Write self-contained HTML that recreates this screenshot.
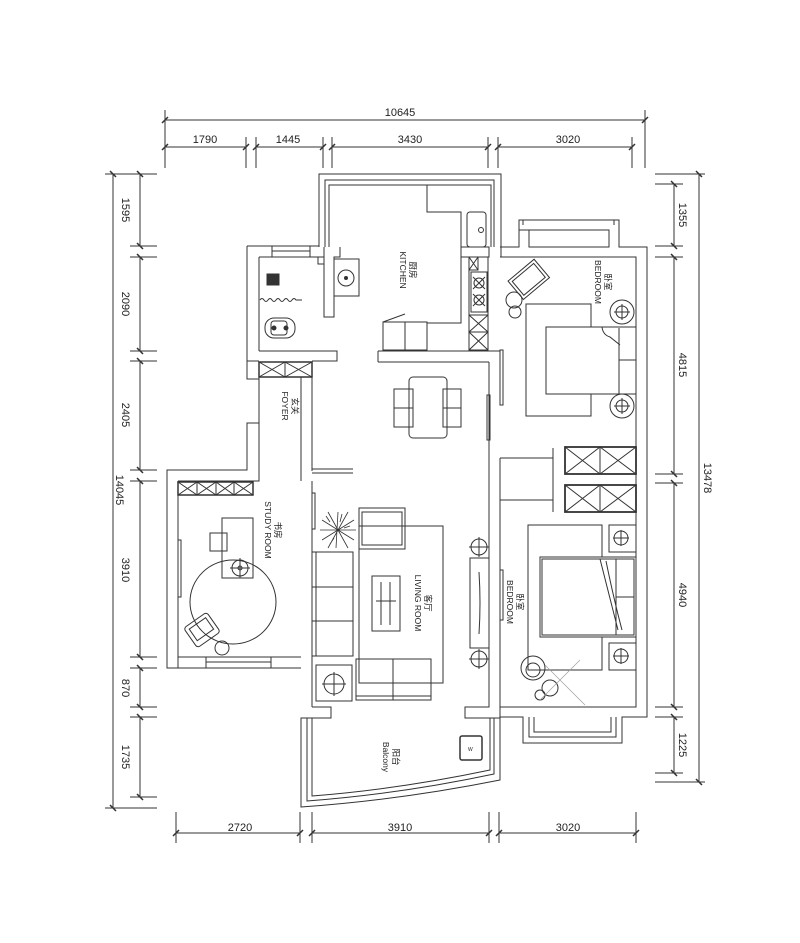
<!DOCTYPE html>
<html><head><meta charset="utf-8"><style>
html,body{margin:0;padding:0;background:#fff;}
svg{display:block;}
text{font-family:"Liberation Sans","Noto Sans CJK SC",sans-serif;fill:#222;}
</style></head><body>
<svg width="800" height="943" viewBox="0 0 800 943" xmlns="http://www.w3.org/2000/svg">
<g stroke="#333" stroke-width="1" fill="none">
<!-- top dims -->
<line x1="165" y1="120" x2="645" y2="120"/>
<line x1="165" y1="110" x2="165" y2="168"/><line x1="645" y1="110" x2="645" y2="168"/>
<line x1="165" y1="147" x2="246" y2="147"/><line x1="256" y1="147" x2="323" y2="147"/>
<line x1="332" y1="147" x2="488" y2="147"/><line x1="498" y1="147" x2="632" y2="147"/>
<path d="M246 137V168M256 137V168M323 137V168M332 137V168M488 137V168M498 137V168M632 137V168"/>
<path d="M162 123l6-6M642 123l6-6M162 150l6-6M243 150l6-6M253 150l6-6M320 150l6-6M329 150l6-6M485 150l6-6M495 150l6-6M629 150l6-6" stroke-width="1.5"/>
<!-- left dims -->
<line x1="113" y1="174" x2="113" y2="808"/>
<line x1="140" y1="174" x2="140" y2="246"/><line x1="140" y1="257" x2="140" y2="351"/>
<line x1="140" y1="361" x2="140" y2="470"/><line x1="140" y1="481" x2="140" y2="657"/>
<line x1="140" y1="668" x2="140" y2="707"/><line x1="140" y1="717" x2="140" y2="797"/>
<path d="M105 174H157M130 246H157M130 257H157M130 351H157M130 361H157M130 470H157M130 481H157M130 657H157M130 668H157M130 707H157M130 717H157M130 797H157M105 808H157"/>
<path d="M110 171l6 6M137 171l6 6M137 243l6 6M137 254l6 6M137 348l6 6M137 358l6 6M137 467l6 6M137 478l6 6M137 654l6 6M137 665l6 6M137 704l6 6M137 714l6 6M137 794l6 6M110 805l6 6" stroke-width="1.5"/>
<!-- right dims -->
<line x1="699" y1="174" x2="699" y2="782"/>
<line x1="674" y1="184" x2="674" y2="246"/><line x1="674" y1="257" x2="674" y2="474"/>
<line x1="674" y1="483" x2="674" y2="707"/><line x1="674" y1="717" x2="674" y2="773"/>
<path d="M655 174H705M655 184H683M655 246H683M655 257H683M655 474H683M655 483H683M655 707H683M655 717H683M655 773H683M655 782H705"/>
<path d="M671 181l6 6M671 243l6 6M671 254l6 6M671 471l6 6M671 480l6 6M671 704l6 6M671 714l6 6M671 770l6 6M696 171l6 6M696 779l6 6" stroke-width="1.5"/>
<!-- bottom dims -->
<line x1="176" y1="833" x2="300" y2="833"/><line x1="312" y1="833" x2="489" y2="833"/><line x1="499" y1="833" x2="636" y2="833"/>
<path d="M176 812V843M300 812V843M312 812V843M489 812V843M499 812V843M636 812V843"/>
<path d="M173 836l6-6M297 836l6-6M309 836l6-6M486 836l6-6M496 836l6-6M633 836l6-6" stroke-width="1.5"/>

<!-- kitchen bay -->
<path d="M319 247V174H501V247M325 247V180H494V247M329 247V185H491V247"/>
<!-- kitchen counter -->
<path d="M427 185V212H461V323H427V350"/>
<rect x="467" y="212" width="19" height="35" rx="3"/>
<circle cx="481" cy="230" r="2.5"/>
<!-- kitchen cabinet column -->
<rect x="461" y="247" width="28" height="10"/>
<rect x="469" y="257" width="19" height="93"/>
<path d="M469 257V270H478V257M469 257L478 270M478 257L469 270"/>
<rect x="471" y="272" width="16" height="40"/>
<circle cx="479" cy="283" r="5"/><circle cx="479" cy="300" r="5"/>
<path d="M473 277l12 12M485 277l-12 12M473 294l12 12M485 294l-12 12"/>
<path d="M469 315H488M469 332H488M469 315L488 332M488 315L469 332M469 332L488 350M488 332L469 350"/>
<!-- fridge -->
<rect x="383" y="322" width="44" height="28"/><line x1="405" y1="322" x2="405" y2="350"/>
<path d="M383 322l22-8"/>
<!-- kitchen bottom wall -->
<path d="M378 351H500M378 362H489M378 351V362"/>
<!-- bathroom -->
<path d="M247 246H319M247 246V379H259M259 257V351M259 257H272M310 257H324"/>
<rect x="272" y="246" width="38" height="11"/><line x1="272" y1="251" x2="310" y2="251"/>
<path d="M324 247V317H334V257H340V247"/>
<path d="M318 257V264H324"/>
<rect x="334" y="259" width="25" height="37"/>
<circle cx="346" cy="278" r="8"/><circle cx="346" cy="278" r="1.5" fill="#333"/>
<rect x="267" y="274" width="12" height="11" fill="#333"/>
<path d="M260 300q2-3 4 0t4 0t4 0t4 0t4 0t4 0t4 0t4 0t4 0H302"/>
<rect x="265" y="318" width="30" height="20" rx="9"/>
<rect x="271" y="321" width="16" height="14" rx="3"/>
<circle cx="274" cy="328" r="2" fill="#333"/><circle cx="286" cy="328" r="2" fill="#333"/>
<path d="M259 351H337V361H312M247 361H259"/>
<!-- foyer closet -->
<rect x="259" y="362" width="53" height="15" stroke-width="1.5"/>
<path d="M285 362V377M259 362L285 377M285 362L259 377M285 362L312 377M312 362L285 377"/>
<!-- foyer walls -->
<path d="M259 377V470M301 377V481M312 377V471M259 423H247V470H167V668H301M312 481V707"/>
<path d="M312 469H353M312 473H353"/>
<!-- study -->
<path d="M178 481H259V470M178 481V657H301M178 657V668"/>
<rect x="178" y="482" width="75" height="13" stroke-width="1.5"/>
<path d="M197 482V495M216 482V495M234 482V495M178 482l19 13M197 482l-19 13M197 482l19 13M216 482l-19 13M216 482l18 13M234 482l-18 13M234 482l19 13M253 482l-19 13"/>
<rect x="206" y="657" width="65" height="11"/><line x1="206" y1="662" x2="271" y2="662"/>
<rect x="178" y="540" width="3" height="57"/>
<rect x="222" y="518" width="31" height="60"/>
<rect x="210" y="533" width="17" height="18"/>
<ellipse cx="233" cy="602" rx="43" ry="42"/>
<circle cx="240" cy="568" r="8"/><path d="M240 558V578M230 568H250"/><circle cx="240" cy="568" r="2"/>
<g transform="rotate(-35 202 630)"><rect x="188" y="618" width="28" height="24" rx="3"/><rect x="192" y="622" width="20" height="14"/></g>
<circle cx="222" cy="648" r="7"/>
<!-- living room walls -->
<path d="M312 707H331V718H301V807"/>
<rect x="312" y="493" width="3" height="36"/>
<path d="M489 362V707H465V718H500V458M500 500V717"/>
<path d="M500 458H553V500H500M553 448V512"/>
<rect x="487" y="395" width="3" height="45"/>
<!-- balcony -->
<path d="M301 718V807Q400 800 500 780V718M307 718V801Q400 794 494 774V718M312 718V796Q400 789 490 770V718"/>
<rect x="460" y="736" width="22" height="24" rx="2" stroke-width="1.5"/>
<text x="468" y="751" font-size="5" stroke="none">W</text>
<!-- dining -->
<rect x="409" y="377" width="38" height="61" rx="4"/>
<rect x="394" y="389" width="19" height="19"/><rect x="394" y="408" width="19" height="19"/>
<rect x="443" y="389" width="18" height="19"/><rect x="443" y="408" width="18" height="19"/>
<!-- living furniture -->
<g stroke-width="0.8"><path d="M338 512l-2 36M322 520l32 20M322 540l32-20M320 530h36M328 512l20 36M348 512l-20 36M326 516l4 6M342 514l-2 8M350 526l-6 2M330 544l4-6"/></g>
<rect x="359" y="508" width="46" height="41"/><rect x="362" y="512" width="40" height="33"/>
<rect x="359" y="526" width="84" height="157"/>
<rect x="312" y="552" width="41" height="104"/>
<path d="M316 552V656M312 587H353M312 621H353"/>
<rect x="372" y="576" width="28" height="55"/>
<path d="M381 582V625M390 582V625M376 601H396"/>
<rect x="356" y="659" width="75" height="41"/>
<path d="M393 659V700M356 696H431"/>
<rect x="316" y="665" width="36" height="36"/>
<circle cx="334" cy="684" r="10"/><path d="M334 672V696M322 684H346"/>
<rect x="470" y="558" width="19" height="90"/>
<path d="M479 572Q481 603 479 634"/>
<circle cx="479" cy="547" r="8"/><path d="M479 537V557M469 547H489"/>
<circle cx="479" cy="659" r="8"/><path d="M479 649V669M469 659H489"/>
<!-- bedroom 1 -->
<path d="M500 247H519V220H619V247H647V717H622V743H523V717H500M500 257H636V447M636 474V485M636 512V707H500M501 247V257M519 230H609"/>
<path d="M523 220V225M614 220V225"/>
<rect x="529" y="230" width="80" height="17"/>
<rect x="526" y="304" width="65" height="112"/>
<rect x="546" y="327" width="90" height="67" fill="#fff"/>
<path d="M602 327Q603 335 610 337L620 345M619 328V394M619 360H636"/>
<circle cx="622" cy="312" r="12"/><circle cx="622" cy="312" r="6"/><path d="M622 304V320M614 312H630"/>
<circle cx="622" cy="406" r="12"/><circle cx="622" cy="406" r="6"/><path d="M622 398V414M614 406H630"/>
<g transform="rotate(-40 528 280)"><rect x="512" y="268" width="34" height="24"/><rect x="515" y="271" width="28" height="18"/></g>
<circle cx="514" cy="300" r="8"/><circle cx="515" cy="312" r="6"/>
<rect x="500" y="350" width="3" height="55"/>
<!-- closets -->
<rect x="565" y="447" width="71" height="27" stroke-width="1.8"/>
<path d="M600 447V474M565 447L600 474M600 447L565 474M600 447L636 474M636 447L600 474"/>
<rect x="565" y="485" width="71" height="27" stroke-width="1.8"/>
<path d="M600 485V512M565 485L600 512M600 485L565 512M600 485L636 512M636 485L600 512"/>
<!-- bedroom 2 -->
<rect x="528" y="525" width="74" height="145"/>
<rect x="609" y="525" width="27" height="27"/><rect x="609" y="643" width="27" height="27"/>
<circle cx="621" cy="538" r="7"/><path d="M621 530V546M613 538H629"/>
<circle cx="621" cy="656" r="7"/><path d="M621 648V664M613 656H629"/>
<rect x="540" y="557" width="96" height="80" fill="#fff"/>
<rect x="542" y="559" width="92" height="76"/>
<path d="M600 559L618 630M606 561Q614 600 622 630M616 559V635M616 597H634"/>
<rect x="500" y="570" width="3" height="50"/>
<circle cx="533" cy="668" r="12"/><circle cx="533" cy="670" r="7"/>
<circle cx="550" cy="688" r="8"/><circle cx="540" cy="695" r="5"/>
<path d="M545 665l40 40M580 660l-40 40" stroke="#999" stroke-width="0.6"/>
<path d="M529 717V737H616V717M534 717V732H611V717"/>
</g>

<!-- dimension labels -->
<g font-size="11" text-anchor="middle">
<text x="400" y="116">10645</text>
<text x="205" y="143">1790</text><text x="288" y="143">1445</text>
<text x="410" y="143">3430</text><text x="568" y="143">3020</text>
<text x="240" y="831">2720</text><text x="400" y="831">3910</text><text x="568" y="831">3020</text>
<text transform="translate(122,210) rotate(90)">1595</text>
<text transform="translate(122,304) rotate(90)">2090</text>
<text transform="translate(122,415) rotate(90)">2405</text>
<text transform="translate(122,570) rotate(90)">3910</text>
<text transform="translate(122,688) rotate(90)">870</text>
<text transform="translate(122,757) rotate(90)">1735</text>
<text transform="translate(116,490) rotate(90)">14045</text>
<text transform="translate(679,215) rotate(90)">1355</text>
<text transform="translate(679,365) rotate(90)">4815</text>
<text transform="translate(679,595) rotate(90)">4940</text>
<text transform="translate(679,745) rotate(90)">1225</text>
<text transform="translate(704,478) rotate(90)">13478</text>
</g>
<!-- room labels -->
<g font-size="8.5" text-anchor="middle">
<text transform="translate(410,270) rotate(90)">厨房</text><text transform="translate(400,270) rotate(90)">KITCHEN</text>
<text transform="translate(605,282) rotate(90)">卧室</text><text transform="translate(595,282) rotate(90)">BEDROOM</text>
<text transform="translate(292,406) rotate(90)">玄关</text><text transform="translate(282,406) rotate(90)">FOYER</text>
<text transform="translate(275,530) rotate(90)">书房</text><text transform="translate(265,530) rotate(90)">STUDY ROOM</text>
<text transform="translate(425,603) rotate(90)">客厅</text><text transform="translate(415,603) rotate(90)">LIVING ROOM</text>
<text transform="translate(517,602) rotate(90)">卧室</text><text transform="translate(507,602) rotate(90)">BEDROOM</text>
<text transform="translate(393,757) rotate(90)">阳台</text><text transform="translate(383,757) rotate(90)">Balcony</text>
</g>
</svg>
</body></html>
